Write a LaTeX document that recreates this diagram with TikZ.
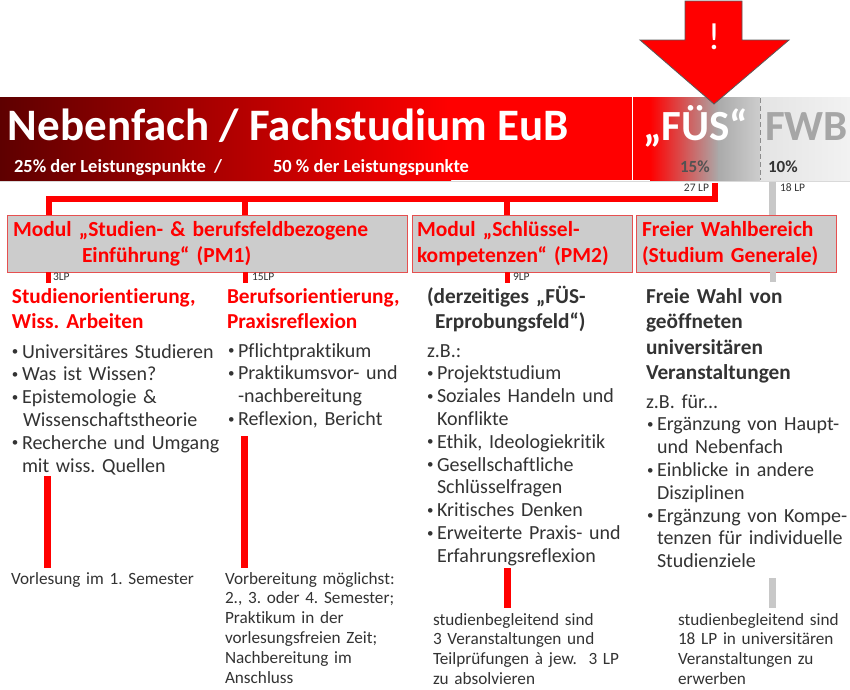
\documentclass[tikz,border=0pt]{standalone}
\usepackage{fontspec}
\setmainfont[Ligatures=NoCommon]{Carlito}
\definecolor{myred}{HTML}{FF0000}
\definecolor{dkred}{HTML}{5E0000}
\definecolor{txtdark}{HTML}{333333}
\definecolor{boxfill}{HTML}{CCCCCC}
\definecolor{boxline}{HTML}{E65050}
\definecolor{fusgray}{HTML}{AAAAAA}
\definecolor{fusgray2}{HTML}{CDCDCD}
\definecolor{fwbA}{HTML}{E4E4E4}
\definecolor{fwbB}{HTML}{F2F2F2}
\definecolor{linegray}{HTML}{C8C8C8}
\definecolor{fwbtext}{HTML}{A6A6A6}
\newcommand{\bul}{\makebox[10pt][l]{\raisebox{0.12em}{\scalebox{0.65}{\textbullet}}}}
\newcommand{\ind}{\hspace*{10pt}}
\frenchspacing
\begin{document}
\begin{tikzpicture}[x=1pt,y=-1pt,
  every node/.style={inner sep=0pt,outer sep=0pt},
  txt/.style={anchor=base west,text=txtdark,align=left,text width=#1},
  txt/.default=240pt,
  body/.style={txt,font=\frenchspacing\fontsize{20}{22.8}\selectfont},
  head/.style={txt,font=\frenchspacing\bfseries\fontsize{21.3}{25.6}\selectfont},
  redhead/.style={head,text=myred},
  boxt/.style={txt=420pt,text=myred,font=\frenchspacing\bfseries\fontsize{21.5}{26}\selectfont},
  note/.style={txt=220pt,font=\frenchspacing\fontsize{17.2}{19.8}\selectfont},
  lp/.style={anchor=base west,text=txtdark,font=\fontsize{11.5}{12}\selectfont},
  modbox/.style={draw=boxline,fill=boxfill,line width=1pt,anchor=north west},
  conn/.style={draw=myred,line width=6pt,line join=miter},
  gline/.style={draw=linegray,line width=6.5pt},
  bar/.style={draw=myred,line width=7pt},
  gbar/.style={draw=linegray,line width=7pt}
]
\useasboundingbox (0,0) rectangle (850,689);
\fill[white] (0,0) rectangle (850,689);

% banner
\fill[left color=dkred,right color=myred] (0,97) rectangle (451,180);
\fill[myred] (450,97) rectangle (651,180);
\fill[left color=myred,right color=fusgray] (650,97) rectangle (719,180);
\fill[left color=fusgray,right color=fusgray2] (718,97) rectangle (760,180);
\fill[left color=fwbA,right color=fwbB] (760,97) rectangle (850,180);
\draw[white,line width=1.6pt] (632.5,97) -- (632.5,180);
\draw[black!45,dash pattern=on 5pt off 3pt,line width=0.9pt] (760,98) -- (760,180);
\draw[black!15] (0,181) -- (850,181);

% arrow
\draw[fill=myred,draw=black!65,line width=0.8pt]
  (685,1) -- (742,1) -- (742,40) -- (789,40) -- (714,104) -- (640,40) -- (685,40) -- cycle;
\node[text=white,font=\fontsize{38}{38}\selectfont] (excl) at (714,37) {!};

% banner texts
\node[anchor=base west,text=white,font=\bfseries\fontsize{45}{45}\selectfont] (title) at (8,140) {Nebenfach / Fachstudium EuB};
\node[anchor=base west,text=white,font=\bfseries\fontsize{18.5}{20}\selectfont] (lp25) at (14,172) {25\% der Leistungspunkte\ \ /};
\node[anchor=base west,text=white,font=\bfseries\fontsize{18.5}{20}\selectfont] (lp50) at (273,172) {50 \% der Leistungspunkte};
\node[anchor=base west,text=white,font=\bfseries\fontsize{43}{43}\selectfont] (fus) at (643,140) {„FÜS“};
\node[anchor=base west,text=fwbtext,font=\bfseries\fontsize{43}{43}\selectfont] (fwbt) at (765,140) {FWB};
\node[anchor=base west,text=black!68,font=\bfseries\fontsize{17}{17}\selectfont] (p15) at (680,172) {15\%};
\node[anchor=base west,text=black!80,font=\bfseries\fontsize{17}{17}\selectfont] (p10) at (768,172) {10\%};
\node[lp,anchor=base east] (lp27) at (709,191) {27 LP};
\node[lp] (lp18) at (780,191) {18 LP};

% connectors
\coordinate (fusb) at (715,183);
\coordinate (hj) at (715,198.5);
\coordinate (h1) at (49,198.5);
\coordinate (h2) at (245,198.5);
\coordinate (h3) at (507,198.5);
\coordinate (g1) at (772.5,182);
\node[modbox,minimum width=400pt,minimum height=57pt] (pm1) at (7.5,215) {};
\node[modbox,minimum width=220pt,minimum height=57pt] (pm2) at (412,215) {};
\node[modbox,minimum width=200pt,minimum height=57pt] (fwb) at (636,215) {};
\path[conn] (fusb) -- (hj) -- (h1) -- (h1 |- pm1.north);
\path[conn] (h2) -- (h2 |- pm1.north);
\path[conn] (h3) -- (h3 |- pm2.north);
\path[gline] (g1) -- (g1 |- fwb.north);
% redraw boxes over line ends
\node[modbox,minimum width=400pt,minimum height=57pt] at (7.5,215) {};
\node[modbox,minimum width=220pt,minimum height=57pt] at (412,215) {};
\node[modbox,minimum width=200pt,minimum height=57pt] at (636,215) {};

\node[boxt] (pm1t) at (13,236) {Modul „Studien- \& berufsfeldbezogene\\\hspace*{69pt}Einführung“ (PM1)};
\node[boxt] (pm2t) at (417,236) {Modul „Schlüssel-\\kompetenzen“ (PM2)};
\node[boxt] (fwbbt) at (642,236) {Freier Wahlbereich\\(Studium Generale)};

% stubs below boxes
\coordinate (s1) at (48,283);
\coordinate (s2) at (245,283);
\coordinate (s3) at (507,283);
\coordinate (s4) at (772.5,282);
\path[draw=myred,line width=5pt] (s1 |- pm1.south) -- (s1);
\path[draw=myred,line width=5pt] (s2 |- pm1.south) -- (s2);
\path[draw=myred,line width=5pt] (s3 |- pm2.south) -- (s3);
\path[draw=linegray,line width=6pt] (s4 |- fwb.south) -- (s4);
\node[lp] (lp3) at (53,280) {3LP};
\node[lp] (lp15) at (252,280) {15LP};
\node[lp] (lp9) at (513,280) {9LP};

% headings
\node[redhead] (h1t) at (12,303) {Studienorientierung,\\Wiss. Arbeiten};
\node[redhead] (h2t) at (227,303) {Berufsorientierung,\\Praxisreflexion};
\node[head] (h3t) at (427,303) {(derzeitiges „FÜS-\\\hspace*{8pt}Erprobungsfeld“)};
\node[head] (h4t) at (646,303) {Freie Wahl von\\geöffneten\\universitären\\Veranstaltungen};

% lists
\node[body] (l1) at (12,358) {\bul Universitäres Studieren\\\bul Was ist Wissen?\\\bul Epistemologie \&\\\ind\hspace*{1pt}Wissenschaftstheorie\\\bul Recherche und Umgang\\\ind mit wiss. Quellen};
\node[body] (l2) at (228,357) {\bul Pflichtpraktikum\\\bul Praktikumsvor- und\\\ind -nachbereitung\\\bul Reflexion, Bericht};
\node[body] (l3) at (427,357) {z.B.:\\\bul Projektstudium\\\bul Soziales Handeln und\\\ind Konflikte\\\bul Ethik, Ideologiekritik\\\bul Gesellschaftliche\\\ind Schlüsselfragen\\\bul Kritisches Denken\\\bul Erweiterte Praxis- und\\\ind Erfahrungsreflexion};
\node[body] (l4) at (646,408) {z.B. für...\\\hspace*{1pt}\bul Ergänzung von Haupt-\\\hspace*{1pt}\ind und Nebenfach\\\hspace*{1pt}\bul Einblicke in andere\\\hspace*{1pt}\ind Disziplinen\\\hspace*{1pt}\bul Ergänzung von Kompe-\\\hspace*{1pt}\ind tenzen für individuelle\\\hspace*{1pt}\ind Studienziele};

% vertical bars
\coordinate (b1a) at (47,476);   \coordinate (b1b) at (47,568);
\coordinate (b2a) at (244.5,436); \coordinate (b2b) at (244.5,568);
\coordinate (b3a) at (507.5,568); \coordinate (b3b) at (507.5,608);
\coordinate (b4a) at (772.5,578); \coordinate (b4b) at (772.5,608);
\path[bar] (b1a) -- (b1b);
\path[bar] (b2a) -- (b2b);
\path[bar] (b3a) -- (b3b);
\path[gbar] (b4a) -- (b4b);

% notes
\node[note] (n1) at (11,584) {Vorlesung im 1. Semester};
\node[note] (n2) at (225,584) {Vorbereitung möglichst:\\2., 3. oder 4. Semester;\\Praktikum in der\\vorlesungsfreien Zeit;\\Nachbereitung im\\Anschluss};
\node[note] (n3) at (433,625) {studienbegleitend sind\\3 Veranstaltungen und\\Teilprüfungen à jew.\ \ 3 LP\\zu absolvieren};
\node[note] (n4) at (678,625) {studienbegleitend sind\\18 LP in universitären\\Veranstaltungen zu\\erwerben};
\end{tikzpicture}
\end{document}
